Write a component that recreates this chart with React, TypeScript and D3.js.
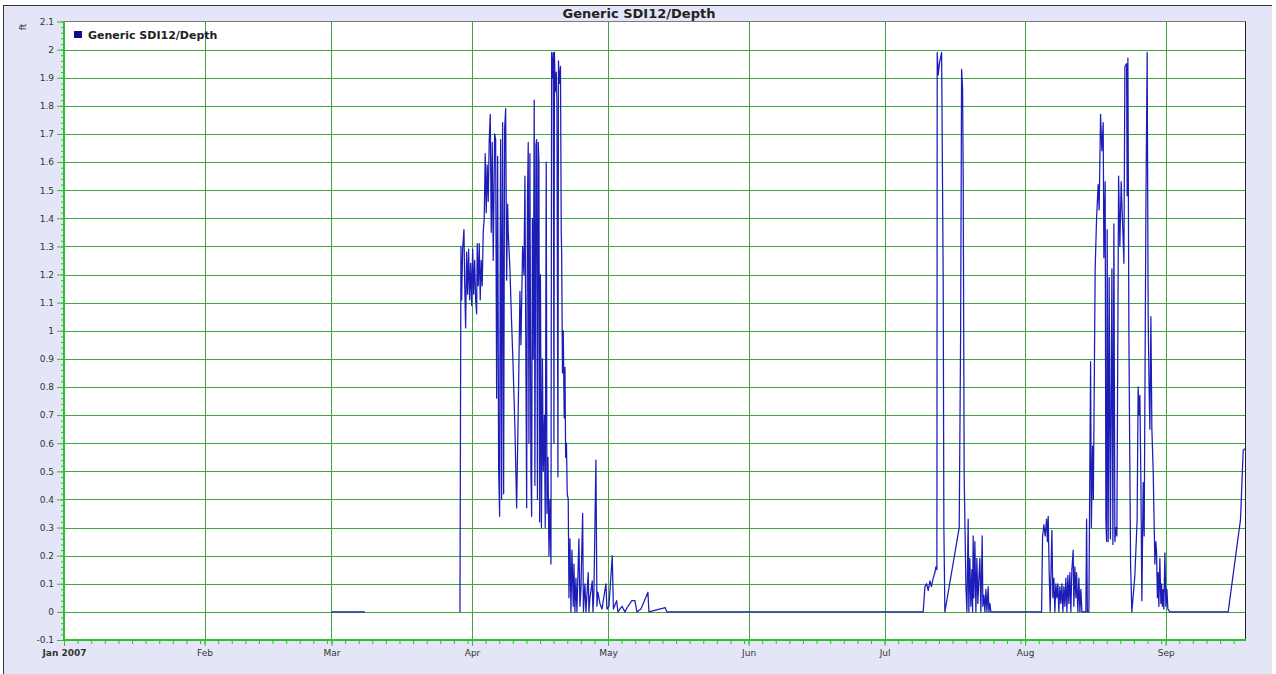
import { useEffect, useRef } from 'react';
import * as d3 from 'd3';

const chartTitle = 'Generic SDI12/Depth';
const seriesName = 'Generic SDI12/Depth';
const unitLabel = 'ft';
const monthLabels = ['Jan 2007', 'Feb', 'Mar', 'Apr', 'May', 'Jun', 'Jul', 'Aug', 'Sep'];
const startDate = new Date(2007, 0, 1);
const endDay = 260.5;
const depthRange = [-0.1, 2.1];

// [days since 2007-01-01, depth in ft]
const marchRun = [
  [59, 0], [66.4, 0],
];

const aprilRun = [
  [87.34, 0], [87.56, 1.3], [87.71, 1.11], [87.93, 1.29], [88.22, 1.36], [88.37, 1.18],
  [88.59, 1.01], [88.81, 1.28], [89.03, 1.13], [89.25, 1.29], [89.47, 1.11], [89.7, 1.24],
  [89.92, 1.09], [90.14, 1.29], [90.36, 1.13], [90.58, 1.25], [90.8, 1.11], [91.02, 1.06],
  [91.15, 1.31], [91.37, 1.16], [91.59, 1.31], [91.81, 1.11], [92.03, 1.25], [92.25, 1.16],
  [92.47, 1.35], [92.69, 1.4], [92.91, 1.63], [93.13, 1.42], [93.35, 1.59], [93.57, 1.46],
  [93.8, 1.68], [94.02, 1.77], [94.24, 1.35], [94.46, 1.67], [94.68, 1.25], [94.99, 1.7],
  [95.21, 1.68], [95.43, 0.76], [95.65, 1.62], [95.87, 0.51], [96.09, 0.34], [96.2, 1.2],
  [96.31, 1.68], [96.53, 0.4], [96.64, 1.3], [96.75, 1.74], [96.97, 0.42], [97.08, 1.1],
  [97.2, 1.72], [97.42, 1.79], [97.64, 1.18],
  [97.86, 1.45], [97.99, 1.35], [98.36, 1.22], [98.69, 1.05], [99.09, 0.86], [99.47, 0.65],
  [99.84, 0.37], [100.2, 0.72], [100.57, 1.14], [100.79, 0.95], [101.16, 1.3], [101.45, 1.2],
  [101.67, 1.55], [102.05, 0.37], [102.22, 1.45], [102.4, 1.67], [102.55, 0.6], [102.77, 1.63],
  [102.99, 0.5], [103.15, 0.34], [103.32, 1.4], [103.5, 0.9], [103.72, 1.82], [103.87, 0.45],
  [104.1, 1.66], [104.25, 1.68], [104.43, 0.4], [104.61, 1.67], [104.76, 1.6], [104.92, 0.32],
  [105.09, 1.2], [105.31, 0.3], [105.53, 0.9], [105.71, 0.5], [105.97, 0.7], [106.15, 0.3],
  [106.37, 1.6], [106.53, 0.35], [106.75, 0.55], [106.97, 0.2], [107.19, 0.4], [107.41, 0.17],
  [107.56, 1.99], [107.74, 1.9], [107.92, 1.99], [108.07, 0.6], [108.18, 1.99], [108.36, 1.85],
  [108.58, 1.92], [108.73, 1.81], [108.95, 0.48], [109.07, 1.96], [109.24, 1.88], [109.51, 1.94],
  [109.68, 1.35], [109.77, 1.28], [109.95, 0.85], [110.12, 1.0], [110.34, 0.69], [110.5, 0.87],
  [110.65, 0.55], [110.83, 0.6], [111.0, 0.42], [111.22, 0.4], [111.38, 0.05], [111.6, 0.26],
  [111.82, 0], [112.04, 0.22], [112.33, 0.02], [112.48, 0.17], [112.7, 0], [112.92, 0.12],
  [113.14, 0], [113.58, 0.26], [113.8, 0.02], [114.02, 0.08], [114.4, 0.35], [114.57, 0],
  [114.9, 0.1], [115.13, 0], [115.63, 0.14], [115.79, 0], [116.01, 0.05], [116.52, 0.11],
  [116.67, 0], [116.89, 0.07], [117.33, 0.54], [117.55, 0.02], [117.77, 0.07], [118.21, 0.03],
  [118.66, 0.01], [119.54, 0.1], [119.76, 0.01], [120.2, 0.02], [120.93, 0.2], [121.19, 0.01],
  [121.9, 0.04], [122.18, 0], [123.07, 0.02], [123.73, 0], [124.39, 0.02], [125.27, 0.04],
  [125.93, 0.04], [126.38, 0], [127.26, 0.01], [128.8, 0.07], [129.02, 0], [132.62, 0.015],
  [132.99, 0],
];

const julyRun = [
  [189.52, 0], [189.9, 0.09], [190.27, 0.1], [190.62, 0.076], [191.0, 0.11], [191.33, 0.09],
  [191.72, 0.12], [192.1, 0.14], [192.32, 0.16], [192.54, 0.15], [192.61, 1.99], [192.83, 1.91],
  [193.09, 1.95], [193.58, 1.99], [193.93, 1.18], [194.08, 0.3], [194.3, 0], [197.46, 0.3],
  [197.77, 0.98], [197.99, 1.93], [198.21, 1.86], [198.34, 1.55], [198.56, 0.48], [198.94, 0.09],
  [199.16, 0], [199.44, 0.33], [199.59, 0], [199.81, 0.19], [200.03, 0.02], [200.26, 0.15],
  [200.41, 0], [200.54, 0.27], [200.7, 0.05], [200.92, 0.25], [201.14, 0], [201.36, 0.19],
  [201.58, 0.03], [201.8, 0.12], [202.02, 0.19], [202.24, 0], [202.53, 0.27], [202.68, 0.02],
  [202.9, 0.06], [203.12, 0], [203.35, 0.08], [203.57, 0], [203.85, 0.09], [204.01, 0],
  [204.23, 0.03], [204.45, 0],
];

const augustRun = [
  [215.63, 0], [215.85, 0.27], [216.14, 0.31], [216.42, 0.27], [216.73, 0.33], [216.91, 0.25],
  [217.09, 0.34], [217.31, 0.14], [217.53, 0], [217.9, 0.29], [218.12, 0.05], [218.34, 0.12],
  [218.56, 0], [218.78, 0.1], [219.0, 0.05], [219.22, 0.1], [219.44, 0], [219.66, 0.09],
  [219.88, 0.03], [220.11, 0.1], [220.33, 0], [220.55, 0.09], [220.77, 0.02], [220.99, 0.12],
  [221.21, 0], [221.43, 0.13], [221.65, 0.03], [221.87, 0.14], [222.09, 0], [222.31, 0.15],
  [222.6, 0.22], [222.75, 0.02], [222.97, 0.16], [223.19, 0.05], [223.35, 0.14], [223.63, 0],
  [223.86, 0.12], [224.08, 0], [224.3, 0.08], [224.52, 0], [225.4, 0], [225.56, 0.33],
  [225.73, 0], [226.06, 0], [226.44, 0.89], [226.61, 0.3], [226.88, 0.59], [227.05, 0.4],
  [227.45, 1.22], [227.76, 1.4], [228.11, 1.52], [228.33, 1.43], [228.64, 1.77], [228.93, 1.64],
  [229.22, 1.74], [229.37, 1.26], [229.66, 1.53], [229.81, 0.33], [229.97, 0.25], [230.1, 1.36],
  [230.32, 0.25], [230.54, 1.19], [230.81, 0.26], [231.14, 1.22], [231.36, 0.24], [231.58, 1.38],
  [231.8, 0.25], [232.02, 0.3], [232.24, 0.27], [232.62, 1.55], [232.9, 1.3], [233.19, 1.53],
  [233.5, 1.38], [233.79, 1.24], [234.01, 1.94], [234.38, 1.95], [234.51, 1.48], [234.67, 1.97],
  [234.89, 0.98], [235.26, 0.17], [235.54, 0], [236.21, 0.13], [236.71, 0.33], [236.93, 0.8],
  [237.15, 0.7], [237.31, 0.77], [237.53, 0.48], [237.75, 0.04], [238.04, 0.46], [238.26, 0.27],
  [238.64, 1.43], [238.92, 1.99], [239.14, 1.05], [239.34, 0.8], [239.52, 0.65], [239.74, 1.05],
  [239.96, 0.65], [240.25, 0.5], [240.62, 0.17], [240.84, 0.25], [241.0, 0.21], [241.17, 0.05],
  [241.35, 0.14], [241.5, 0.02], [241.72, 0.19], [241.94, 0.03], [242.1, 0.1], [242.27, 0.02],
  [242.45, 0.08], [242.6, 0.01], [242.83, 0.21], [243.05, 0.02], [243.27, 0.08], [243.49, 0.01],
  [243.93, 0],
];

const septemberRun = [
  [256.79, 0], [259.52, 0.33], [260.1, 0.575], [260.5, 0.58],
];

const W = 1276;
const H = 674;
const plot = { left: 64, right: 1245, top: 21.5, bottom: 640 };
const gridColor = '#3fa43f';
const axisColor = '#2fbf2f';
const lineColor = '#1c1cb8';
const font = '"DejaVu Sans", Verdana, sans-serif';

const toDate = (d: number) => new Date(startDate.getTime() + d * 86400000);

export default function App() {
  const ref = useRef<SVGSVGElement>(null);

  useEffect(() => {
    const svg = d3.select(ref.current);
    svg.selectAll('*').remove();

    const x = d3
      .scaleTime()
      .domain([startDate, toDate(endDay)])
      .range([plot.left, plot.right]);
    const y = d3.scaleLinear().domain(depthRange).range([plot.bottom, plot.top]);

    // outer frame
    svg.append('rect').attr('x', 3).attr('y', 5).attr('width', 1269).attr('height', H).attr('fill', '#e4e6f7');
    svg.append('line').attr('x1', 3).attr('x2', 1272).attr('y1', 5.5).attr('y2', 5.5).attr('stroke', '#333');
    svg.append('line').attr('x1', 3.5).attr('x2', 3.5).attr('y1', 5).attr('y2', H).attr('stroke', '#333');

    svg
      .append('text')
      .text(chartTitle)
      .attr('x', 639)
      .attr('y', 17.5)
      .attr('text-anchor', 'middle')
      .style('font-family', font)
      .style('font-weight', 'bold')
      .style('font-size', '13px')
      .attr('fill', '#222');

    svg
      .append('rect')
      .attr('x', plot.left)
      .attr('y', plot.top)
      .attr('width', plot.right - plot.left)
      .attr('height', plot.bottom - plot.top)
      .attr('fill', 'white');

    // grid
    const yMajor = y.ticks(22);
    const grid = svg.append('g');
    grid
      .selectAll('line.h')
      .data(yMajor.filter(v => v > -0.05 && v < 2.05))
      .enter()
      .append('line')
      .attr('x1', plot.left)
      .attr('x2', plot.right)
      .attr('y1', d => Math.round(y(d)) + 0.5)
      .attr('y2', d => Math.round(y(d)) + 0.5)
      .attr('stroke', gridColor);
    const months = d3.timeMonth.range(startDate, toDate(endDay));
    grid
      .selectAll('line.v')
      .data(months.slice(1))
      .enter()
      .append('line')
      .attr('x1', d => Math.round(x(d)) + 0.5)
      .attr('x2', d => Math.round(x(d)) + 0.5)
      .attr('y1', plot.top)
      .attr('y2', plot.bottom)
      .attr('stroke', gridColor);

    // series
    const line = d3
      .line<number[]>()
      .x(d => x(toDate(d[0])))
      .y(d => y(d[1]));
    [marchRun, [...aprilRun, ...julyRun, ...augustRun, ...septemberRun]].forEach(run => {
      svg
        .append('path')
        .attr('d', line(run))
        .attr('fill', 'none')
        .attr('stroke', lineColor)
        .attr('stroke-width', 1.25)
        .attr('stroke-linejoin', 'round');
    });

    // plot borders
    svg.append('line').attr('x1', plot.left).attr('x2', plot.right + 1).attr('y1', plot.top).attr('y2', plot.top).attr('stroke', '#7a7a7a');
    svg.append('line').attr('x1', plot.right + 0.5).attr('x2', plot.right + 0.5).attr('y1', plot.top).attr('y2', plot.bottom).attr('stroke', '#222');

    // y axis
    const fmt = (d: d3.NumberValue) => String(+(+d).toFixed(1));
    const yAxis = svg
      .append('g')
      .attr('transform', `translate(${plot.left},0)`)
      .call(d3.axisLeft(y).tickValues(yMajor).tickSize(7).tickPadding(3).tickFormat(fmt));
    const yMinor = svg
      .append('g')
      .attr('transform', `translate(${plot.left},0)`)
      .call(d3.axisLeft(y).tickValues(d3.range(-5, 106).map(i => i / 50)).tickSize(3).tickFormat(() => ''));
    [yAxis, yMinor].forEach(g => {
      g.select('.domain').remove();
      g.selectAll('line').attr('stroke', axisColor);
    });
    yAxis.selectAll('text').style('font-family', font).style('font-size', '9px').attr('fill', '#333');

    // x axis
    const xAxis = svg
      .append('g')
      .attr('transform', `translate(0,${plot.bottom})`)
      .call(
        d3
          .axisBottom(x)
          .tickValues(months)
          .tickSize(6)
          .tickPadding(4)
          .tickFormat((d, i) => monthLabels[i])
      );
    const xMinor = svg
      .append('g')
      .attr('transform', `translate(0,${plot.bottom})`)
      .call(
        d3
          .axisBottom(x)
          .tickValues(d3.timeDay.every(3)!.range(startDate, toDate(endDay)))
          .tickSize(4)
          .tickFormat(() => '')
      );
    [xAxis, xMinor].forEach(g => {
      g.select('.domain').remove();
      g.selectAll('line').attr('stroke', axisColor);
    });
    xAxis
      .selectAll('text')
      .style('font-family', font)
      .style('font-size', '9px')
      .attr('fill', '#333')
      .style('font-weight', (d, i) => (i === 0 ? 'bold' : 'normal'));

    svg.append('line').attr('x1', plot.left).attr('x2', plot.left).attr('y1', plot.top).attr('y2', plot.bottom + 1).attr('stroke', axisColor).attr('stroke-width', 2);
    svg.append('line').attr('x1', plot.left - 1).attr('x2', plot.right + 1).attr('y1', plot.bottom).attr('y2', plot.bottom).attr('stroke', axisColor).attr('stroke-width', 2);

    svg
      .append('text')
      .text(unitLabel)
      .attr('transform', 'translate(26,27) rotate(-90)')
      .attr('text-anchor', 'middle')
      .style('font-family', font)
      .style('font-size', '9px')
      .attr('fill', '#333');

    // legend
    const legend = svg.append('g').attr('transform', 'translate(74,31)');
    legend.append('rect').attr('width', 8).attr('height', 7).attr('fill', '#0c0c8c');
    legend
      .append('text')
      .text(seriesName)
      .attr('x', 14)
      .attr('y', 7.5)
      .style('font-family', font)
      .style('font-weight', 'bold')
      .style('font-size', '11px')
      .attr('fill', '#222');
  }, []);

  return (
    <svg
      ref={ref}
      width={W}
      height={H}
      style={{ position: 'absolute', left: 0, top: 0, background: 'white' }}
    />
  );
}
